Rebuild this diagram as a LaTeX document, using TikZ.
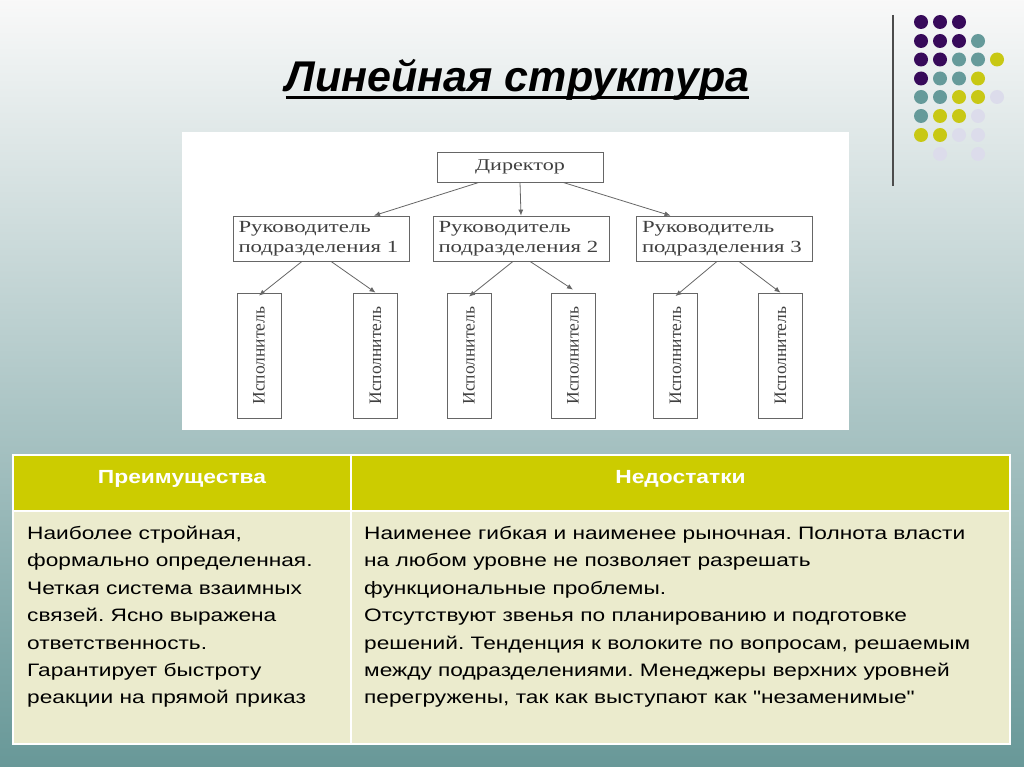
\documentclass[tikz,border=0pt]{standalone}
\usepackage{fontspec}
\setmainfont{Liberation Sans}
\newfontfamily\titlefont{Liberation Sans}
\newfontfamily\serifS[FakeStretch=1.34]{Liberation Serif}
\newfontfamily\seriff{Liberation Serif}
\newfontfamily\bodyS[FakeStretch=1.26]{Liberation Sans}
\newfontfamily\hdrS[FakeStretch=1.2]{Liberation Sans}
\usetikzlibrary{arrows.meta}
\frenchspacing
\definecolor{dpurple}{HTML}{370A5A}
\definecolor{dteal}{HTML}{659A9A}
\definecolor{dyellow}{HTML}{C8C814}
\definecolor{dlav}{HTML}{DCDCEB}
\definecolor{hdr}{HTML}{CCCC00}
\definecolor{bodyc}{HTML}{EBEBCD}
\definecolor{chartline}{HTML}{666666}
\tikzset{
  chartbox/.style={draw=chartline, line width=0.8pt, fill=white, inner sep=0pt},
  mgr/.style={chartbox, minimum width=176pt, minimum height=45pt, text width=165pt, inner xsep=5.5pt, align=left,
    font=\serifS\fontsize{17}{19.5}\selectfont, text=black!75},
  exec/.style={chartbox, rotate=90, minimum width=125pt, minimum height=44pt,
    font=\seriff\fontsize{17.5}{20}\selectfont, text=black!75},
  arr/.style={draw=chartline, line width=0.8pt, -{Latex[length=6pt,width=5pt]}},
  bodytext/.style={anchor=north west, inner sep=0pt, align=left, font=\bodyS\fontsize{18}{27.4}\selectfont\frenchspacing},
  hdrtext/.style={anchor=base, inner sep=0pt, text=white, font=\hdrS\bfseries\fontsize{19}{22}\selectfont}
}
\begin{document}
\begin{tikzpicture}[x=1pt, y=-1pt]
\useasboundingbox (0,0) rectangle (1024,767);
% background
\shade[top color=white!95!gray, middle color={rgb,255:red,190;green,204;blue,204}, bottom color={rgb,255:red,104;green,152;blue,152}] (0,0) rectangle (1024,767);
% decoration line and dots
\draw[line width=2pt, black!70] (893,15) -- (893,186);
\foreach \y/\cols in {
  22/{dpurple,dpurple,dpurple,none,none},
  41/{dpurple,dpurple,dpurple,dteal,none},
  59.5/{dpurple,dpurple,dteal,dteal,dyellow},
  78.5/{dpurple,dteal,dteal,dyellow,none},
  97/{dteal,dteal,dyellow,dyellow,dlav},
  116/{dteal,dyellow,dyellow,dlav,none},
  135/{dyellow,dyellow,dlav,dlav,none},
  154/{none,dlav,none,dlav,none}}{
  \foreach \c [count=\i] in \cols {
    \pgfmathsetmacro{\xx}{921+19*(\i-1)}
    \def\nonec{none}
    \ifx\c\nonec\else
      \fill[\c] (\xx,\y) circle (7);
    \fi
  }
}
% title
\node[anchor=base, inner sep=0pt, font=\titlefont\bfseries\itshape\fontsize{43}{47}\selectfont] (title) at (517.5,92) {Линейная структура};
\draw[line width=3pt] ([yshift=-6pt]title.base west) -- ([yshift=-6pt]title.base east);
% chart area
\fill[white] (182,132) rectangle (849,430);
\node[chartbox, minimum width=166pt, minimum height=30pt, font=\serifS\fontsize{16.5}{19}\selectfont, text=black!75] (dir) at (520,167) {Директор};
\node[mgr] (m1) at (321,238.5) {\mbox{Руководитель}\\\mbox{подразделения 1}};
\node[mgr] (m2) at (521,238.5) {\mbox{Руководитель}\\\mbox{подразделения 2}};
\node[mgr] (m3) at (724.5,238.5) {\mbox{Руководитель}\\\mbox{подразделения 3}};
\node[exec] (e1) at (259,355.5) {Исполнитель};
\node[exec] (e2) at (375.5,355.5) {Исполнитель};
\node[exec] (e3) at (469,355.5) {Исполнитель};
\node[exec] (e4) at (573,355.5) {Исполнитель};
\node[exec] (e5) at (675.5,355.5) {Исполнитель};
\node[exec] (e6) at (780.5,355.5) {Исполнитель};
\draw[arr] ([xshift=-41pt]dir.south) -- ([xshift=53pt]m1.north);
\draw[arr] (dir.south) -- (m2.north);
\draw[arr] ([xshift=43pt]dir.south) -- ([xshift=-54pt]m3.north);
\draw[arr] ([xshift=-19pt]m1.south) -- ([yshift=-3pt]e1.east);
\draw[arr] ([xshift=10pt]m1.south) -- (e2.east);
\draw[arr] ([xshift=-8pt]m2.south) -- ([yshift=-4pt]e3.east);
\draw[arr] ([xshift=9pt]m2.south) -- ([yshift=3pt]e4.east);
\draw[arr] ([xshift=-7.5pt]m3.south) -- ([yshift=-3.5pt]e5.east);
\draw[arr] ([xshift=14.5pt]m3.south) -- (e6.east);
% table
\fill[hdr] (13,455) rectangle (1010,511);
\fill[bodyc] (13,511) rectangle (1010,744);
\draw[white, line width=2pt] (13,455) rectangle (1010,744);
\draw[white, line width=2pt] (13,511) -- (1010,511);
\draw[white, line width=2pt] (351,455) -- (351,744);
\node[hdrtext] (h1) at (182,483) {Преимущества};
\node[hdrtext] (h2) at (680.5,483) {Недостатки};
\node[bodytext] (b1) at (27,526) {Наиболее стройная,\\формально определенная.\\Четкая система взаимных\\связей. Ясно выражена\\ответственность.\\Гарантирует быстроту\\реакции на прямой приказ};
\node[bodytext] (b2) at (364,526) {Наименее гибкая и наименее рыночная. Полнота власти\\на любом уровне не позволяет разрешать\\функциональные проблемы.\\Отсутствуют звенья по планированию и подготовке\\решений. Тенденция к волоките по вопросам, решаемым\\между подразделениями. Менеджеры верхних уровней\\перегружены, так как выступают как "незаменимые"};
\end{tikzpicture}
\end{document}
